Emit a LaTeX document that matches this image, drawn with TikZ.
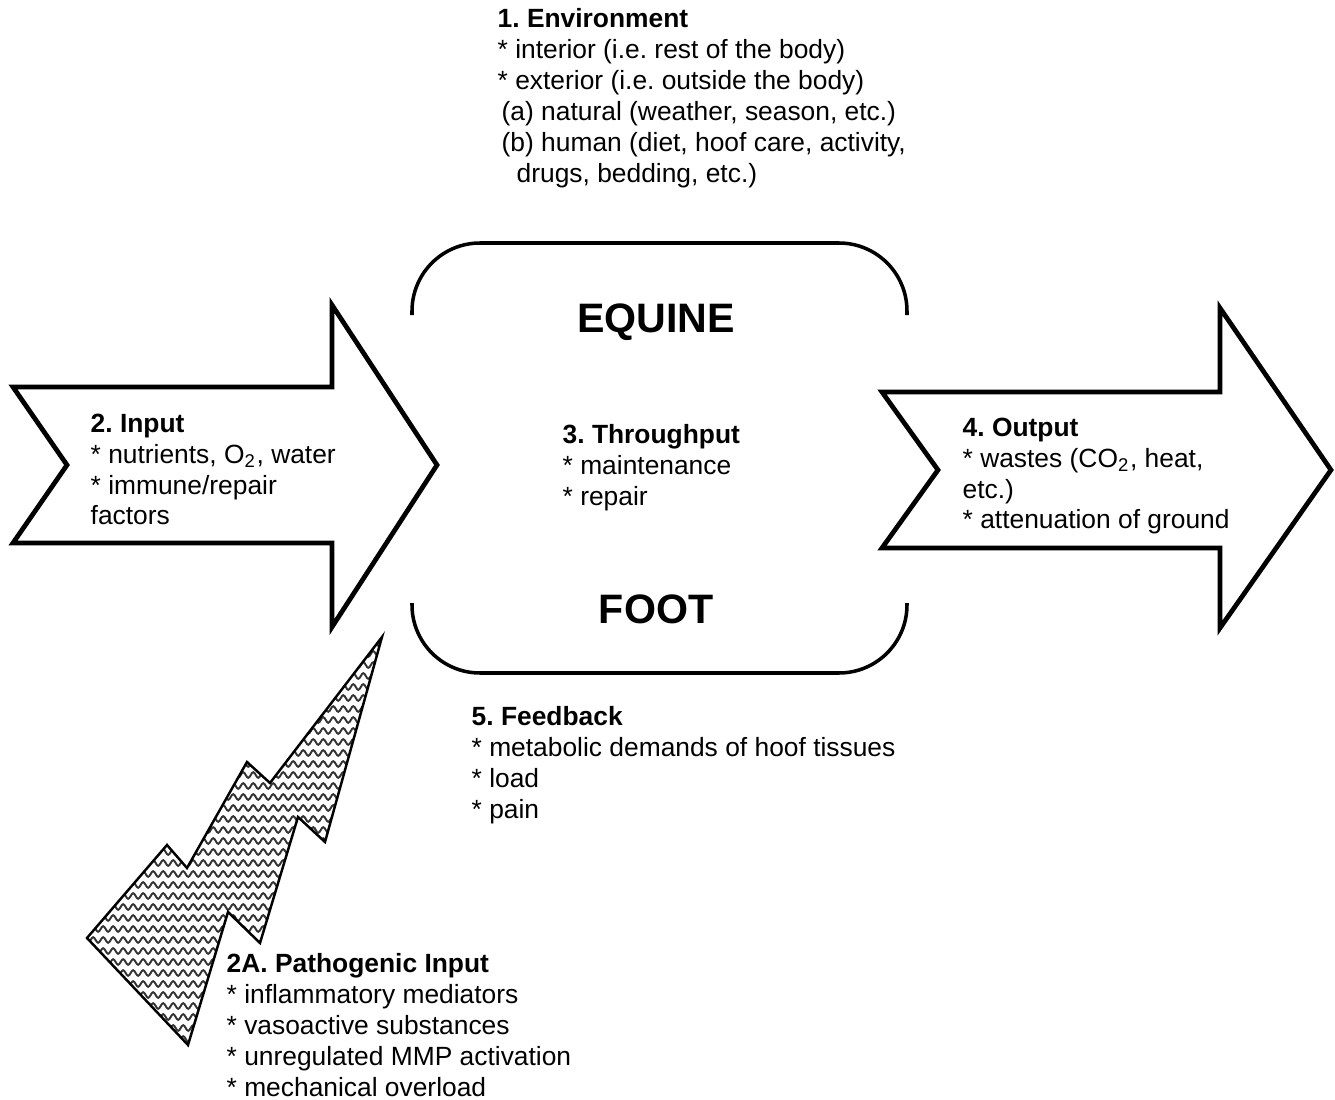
\documentclass[tikz,border=0pt]{standalone}
\usepackage{fontspec}
\setmainfont{Liberation Sans}
\usetikzlibrary{decorations.pathmorphing}
\frenchspacing

\begin{document}
\begin{tikzpicture}[x=0.01cm, y=-0.01cm,
  txt/.style={anchor=north west, align=left, inner sep=0pt,
    font=\fontsize{7.5pt}{8.8pt}\selectfont},
  big/.style={anchor=base, inner sep=0pt,
    font=\fontsize{11.7pt}{14pt}\selectfont\bfseries},
  fat/.style={draw, line width=1.35pt, line join=miter, fill=white},
  bracket/.style={draw, line width=1pt, rounded corners=0.68cm},
  boltline/.style={draw, line width=0.7pt, line join=miter},
  wave/.style={black!80, line width=0.55pt, decorate,
    decoration={snake, segment length=0.1cm, amplitude=0.028cm}}]
\useasboundingbox (0,0) rectangle (1335,1100);

% input and output arrows
\draw[fat] (13,387) -- (332,387) -- (332,305) -- (437,465) -- (332,627)
  -- (332,543) -- (13,543) -- (67,465) -- cycle;
\draw[fat] (882,392) -- (1220,392) -- (1220,308) -- (1331,470) -- (1220,628)
  -- (1220,548) -- (882,548) -- (938,470) -- cycle;

% the two halves round the foot
\draw[bracket] (412,315) -- (412,243) -- (907,243) -- (907,315);
\draw[bracket] (412,603) -- (412,673) -- (907,673) -- (907,603);

% lightning bolt
\coordinate (b1) at (382,637);
\coordinate (b2) at (325,842);
\coordinate (b3) at (298,817);
\coordinate (b4) at (260,943);
\coordinate (b5) at (228,912);
\coordinate (b6) at (188,1045);
\coordinate (b7) at (87,938);
\coordinate (b8) at (167,845);
\coordinate (b9) at (187,868);
\coordinate (b10) at (247,762);
\coordinate (b11) at (270,783);
\begin{scope}
  \clip (b1) -- (b2) -- (b3) -- (b4) -- (b5) -- (b6) -- (b7) -- (b8)
    -- (b9) -- (b10) -- (b11) -- cycle;
  \foreach \y in {632,643,...,1050}
    \draw[wave] (70,\y) -- (400,\y);
\end{scope}
\draw[boltline] (b1) -- (b2) -- (b3) -- (b4) -- (b5) -- (b6) -- (b7)
  -- (b8) -- (b9) -- (b10) -- (b11) -- cycle;

% labels
\node[big] (equine) at (656,333) {EQUINE};
\node[big] (foot) at (656,623) {FOOT};

\node[txt] (env) at (497,8) {\textbf{1. Environment}\\
  * interior (i.e. rest of the body)\\
  * exterior (i.e. outside the body)\\
  \hspace*{0.04cm}(a) natural (weather, season, etc.)\\
  \hspace*{0.04cm}(b) human (diet, hoof care, activity,\\
  \hspace*{0.19cm}drugs, bedding, etc.)};
\node[txt] (input) at (90,413) {\textbf{2. Input}\\
  * nutrients, O\textsubscript{2}, water\\
  * immune/repair\\
  factors};
\node[txt] (thru) at (562,424) {\textbf{3. Throughput}\\
  * maintenance\\
  * repair};
\node[txt] (output) at (962,417) {\textbf{4. Output}\\
  * wastes (CO\textsubscript{2}, heat,\\
  etc.)\\
  * attenuation of ground};
\node[txt] (feedback) at (471,706) {\textbf{5. Feedback}\\
  * metabolic demands of hoof tissues\\
  * load\\
  * pain};
\node[txt] (patho) at (226,953) {\textbf{2A. Pathogenic Input}\\
  * inflammatory mediators\\
  * vasoactive substances\\
  * unregulated MMP activation\\
  * mechanical overload};
\end{tikzpicture}
\end{document}
